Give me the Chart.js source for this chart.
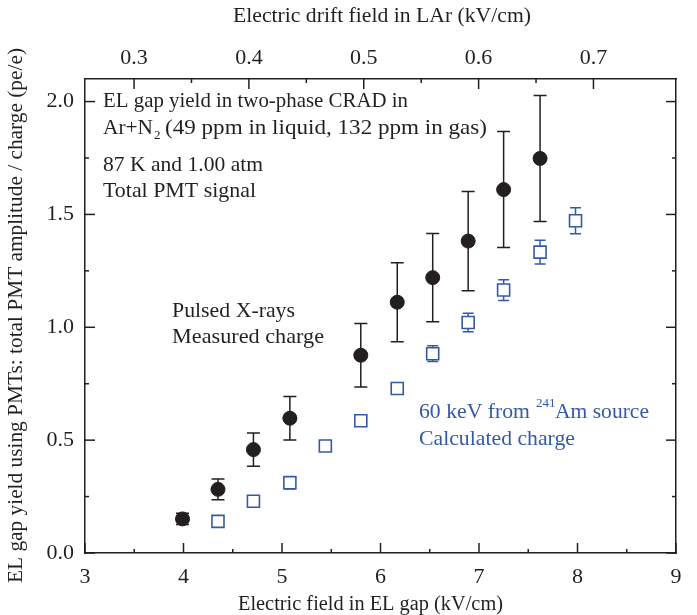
<!DOCTYPE html>
<html>
<head>
<meta charset="utf-8">
<script src="https://cdn.jsdelivr.net/npm/chart.js@4.4.1/dist/chart.umd.min.js"></script>
<style>
  html, body { margin: 0; padding: 0; background: #fff; }
  #wrap { width: 697px; height: 615px; }
</style>
</head>
<body>
<div id="wrap"><canvas id="chart" width="697" height="615"></canvas></div>
<script>
// Pulsed X-rays, measured charge (field in EL gap, kV/cm)
const xrayField = [3.99, 4.35, 4.71, 5.08, 5.80, 6.17, 6.53, 6.89, 7.25, 7.62];
const xrayYield = [0.151, 0.282, 0.458, 0.597, 0.876, 1.111, 1.220, 1.382, 1.610, 1.748];
const xrayErr   = [0.025, 0.046, 0.074, 0.096, 0.141, 0.175, 0.195, 0.220, 0.257, 0.279];

// 60 keV from 241Am, calculated charge
const amField = [4.35, 4.71, 5.08, 5.44, 5.80, 6.17, 6.53, 6.89, 7.25, 7.62, 7.98];
const amYield = [0.140, 0.229, 0.311, 0.474, 0.586, 0.729, 0.883, 1.021, 1.165, 1.333, 1.472];
const amErr   = [0.018, 0.025, 0.028, 0.015, 0.015, 0.020, 0.035, 0.041, 0.046, 0.053, 0.058];

// tick labels
const bottomTicks = [3, 4, 5, 6, 7, 8, 9];
const topTicks = [0.3, 0.4, 0.5, 0.6, 0.7];
const leftTicks = [0, 0.5, 1.0, 1.5, 2.0];

const FIELD_RATIO = 11.66; // EL gap field / drift field in LAr

const ink = '#231f20';
const blue = '#3459a8';
const serif = 'Liberation Serif, Times New Roman, serif';

function toPoints(xs, ys, es) {
    return xs.map((x, i) => ({x: x, y: ys[i], err: es[i]}));
}

// write text squeezed/stretched to a given width (the source font is a bit wider)
function fitText(ctx, text, x, y, width) {
    const w = ctx.measureText(text).width;
    ctx.save();
    ctx.translate(x, y);
    ctx.scale(width / w, 1);
    ctx.fillText(text, 0, 0);
    ctx.restore();
}

// error bars, drawn under the markers
const errorBars = {
    id: 'errorBars',
    beforeDatasetsDraw(chart) {
        const {ctx, scales: {x, y}} = chart;
        chart.data.datasets.forEach(ds => {
            ctx.save();
            ctx.strokeStyle = ds.borderColor;
            ctx.lineWidth = 1.5;
            const w = ds.capWidth / 2;
            ds.data.forEach(p => {
                const px = x.getPixelForValue(p.x);
                const top = y.getPixelForValue(p.y + p.err);
                const bot = y.getPixelForValue(p.y - p.err);
                ctx.beginPath();
                ctx.moveTo(px, top); ctx.lineTo(px, bot);
                ctx.moveTo(px - w, top); ctx.lineTo(px + w, top);
                ctx.moveTo(px - w, bot); ctx.lineTo(px + w, bot);
                ctx.stroke();
            });
            ctx.restore();
        });
    }
};

// inward ticks on all four sides
const frameTicks = {
    id: 'frameTicks',
    afterDraw(chart) {
        const {ctx, chartArea: a, scales} = chart;
        ctx.save();
        ctx.strokeStyle = ink;
        ctx.lineWidth = 1.5;
        const line = (x1, y1, x2, y2) => {
            ctx.beginPath(); ctx.moveTo(x1, y1); ctx.lineTo(x2, y2); ctx.stroke();
        };
        for (let i = 0; i <= 12; i++) {
            const px = scales.x.getPixelForValue(3 + i * 0.5);
            line(px, a.bottom, px, a.bottom - (i % 2 ? 4 : 10));
        }
        for (let i = 0; i <= 9; i++) {
            const v = 0.25 + i * 0.05;
            if (v < scales.x2.min || v > scales.x2.max) continue;
            const px = scales.x2.getPixelForValue(v);
            line(px, a.top, px, a.top + (i % 2 ? 10 : 4));
        }
        for (let i = 0; i <= 8; i++) {
            const py = scales.y.getPixelForValue(i * 0.25);
            const len = i % 2 ? 4 : 10;
            line(a.left, py, a.left + len, py);
            line(a.right, py, a.right - len, py);
        }
        ctx.restore();
    }
};

// axis titles and notes inside the plot
const notes = {
    id: 'notes',
    afterDraw(chart) {
        const {ctx, chartArea: a} = chart;
        ctx.save();
        ctx.textAlign = 'left';
        ctx.textBaseline = 'alphabetic';
        const big = '21px ' + serif;
        const small = '13px ' + serif;

        ctx.fillStyle = ink;
        ctx.font = '20px ' + serif;
        fitText(ctx, 'Electric drift field in LAr (kV/cm)', 233, 22, 298);
        fitText(ctx, 'Electric field in EL gap (kV/cm)', 238, 610, 265);
        ctx.save();
        ctx.translate(22, 316);
        ctx.rotate(-Math.PI / 2);
        const yt = 'EL gap yield using PMTs: total PMT amplitude / charge (pe/e)';
        fitText(ctx, yt, -267, 0, 535);
        ctx.restore();

        ctx.font = big;
        fitText(ctx, 'EL gap yield in two-phase CRAD in', 103, 107, 305);
        fitText(ctx, 'Ar+N', 103, 134, 50);
        ctx.font = small;
        ctx.fillText('2', 154, 139);
        ctx.font = big;
        fitText(ctx, '(49 ppm in liquid, 132 ppm in gas)', 165, 134, 322);
        fitText(ctx, '87 K and 1.00 atm', 103, 171, 160);
        fitText(ctx, 'Total PMT signal', 103, 197, 153);

        fitText(ctx, 'Pulsed X-rays', 172, 317, 123);
        fitText(ctx, 'Measured charge', 172, 343, 152);

        ctx.fillStyle = blue;
        fitText(ctx, '60 keV from', 419, 418, 111);
        ctx.font = small;
        ctx.fillText('241', 536, 407);
        ctx.font = big;
        fitText(ctx, 'Am source', 555, 418, 94);
        fitText(ctx, 'Calculated charge', 419, 445, 156);
        ctx.restore();
    }
};

const tickFont = {family: serif, size: 22};

new Chart(document.getElementById('chart'), {
    type: 'scatter',
    data: {
        datasets: [
            {
                label: 'Pulsed X-rays',
                data: toPoints(xrayField, xrayYield, xrayErr),
                pointStyle: 'circle',
                pointRadius: 7,
                backgroundColor: ink,
                borderColor: ink,
                borderWidth: 1,
                capWidth: 13
            },
            {
                label: '60 keV from 241Am',
                data: toPoints(amField, amYield, amErr),
                pointStyle: 'rect',
                pointRadius: 8.5,
                backgroundColor: '#ffffff',
                borderColor: blue,
                borderWidth: 1.6,
                capWidth: 11
            }
        ]
    },
    options: {
        responsive: false,
        animation: false,
        layout: {padding: 0},
        plugins: {
            legend: {display: false},
            tooltip: {enabled: false}
        },
        scales: {
            x: {
                type: 'linear', position: 'bottom', min: 3, max: 9,
                afterBuildTicks: s => { s.ticks = bottomTicks.map(v => ({value: v})); },
                afterFit: s => { s.height = 62; },
                grid: {display: true, drawOnChartArea: false, drawTicks: false},
                border: {color: ink, width: 1.5},
                ticks: {font: tickFont, color: ink, padding: 11}
            },
            x2: {
                type: 'linear', position: 'top', min: 3 / FIELD_RATIO, max: 9 / FIELD_RATIO,
                afterBuildTicks: s => { s.ticks = topTicks.map(v => ({value: v})); },
                afterFit: s => { s.height = 79; },
                grid: {display: true, drawOnChartArea: false, drawTicks: false},
                border: {color: ink, width: 1.5},
                ticks: {font: tickFont, color: ink, padding: 8, callback: v => v.toFixed(1)}
            },
            y: {
                type: 'linear', position: 'left', min: 0, max: 2.1,
                afterBuildTicks: s => { s.ticks = leftTicks.map(v => ({value: v})); },
                afterFit: s => { s.width = 85; },
                grid: {display: true, drawOnChartArea: false, drawTicks: false},
                border: {color: ink, width: 1.5},
                ticks: {font: tickFont, color: ink, padding: 11, callback: v => v.toFixed(1)}
            },
            y2: {
                type: 'linear', position: 'right', min: 0, max: 2.1,
                afterFit: s => { s.width = 21; },
                grid: {display: true, drawOnChartArea: false, drawTicks: false},
                border: {color: ink, width: 1.5},
                ticks: {display: false}
            }
        }
    },
    plugins: [errorBars, frameTicks, notes]
});
</script>
</body>
</html>
